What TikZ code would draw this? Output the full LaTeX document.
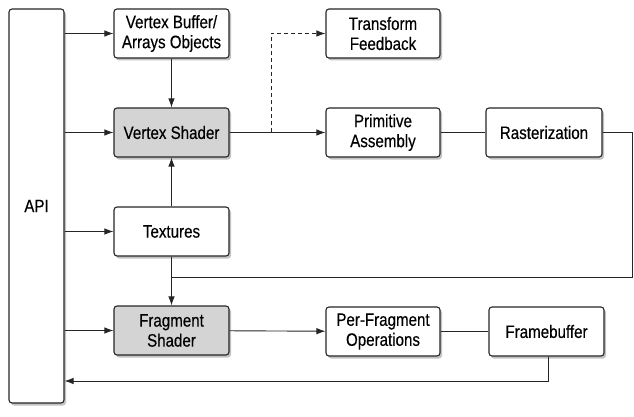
\documentclass[tikz,border=0pt]{standalone}
\usepackage{fontspec}
\setmainfont{Liberation Sans}[FakeStretch=0.84,FakeBold=0.35]
\usetikzlibrary{arrows.meta,shadows,calc}
\begin{document}
\begin{tikzpicture}[x=1pt,y=-1pt,
  box/.style={draw=black!85, line width=1.1pt, rounded corners=3pt, fill=white,
    minimum width=115pt, minimum height=49pt, align=center, inner sep=0pt,
    font=\fontsize{18}{20}\selectfont,
    drop shadow={shadow xshift=2pt, shadow yshift=-2.5pt, opacity=0.4, fill=black!60}},
  shaded/.style={box, fill=black!17},
  conn/.style={draw=black!85, line width=0.9pt},
  arr/.style={conn, -{Latex[length=9pt,width=6.5pt]}}]
\useasboundingbox (0,0) rectangle (634,417);
\node[box, minimum width=55pt, minimum height=394pt] (api) at (36.5,206) {API};
\node[box] (vb) at (171.5,33.5) {Vertex Buffer/\\Arrays Objects};
\node[shaded] (vs) at (171.5,132.5) {Vertex Shader};
\node[box] (tex) at (171.5,231.5) {Textures};
\node[shaded] (fs) at (171.5,330.5) {Fragment\\Shader};
\node[box, minimum width=114pt] (tf) at (383,33.5) {Transform\\Feedback};
\node[box, minimum width=114pt] (pa) at (383,132.5) {Primitive\\Assembly};
\node[box, minimum width=116pt] (ras) at (544,132.5) {Rasterization};
\node[box, minimum width=114pt] (pf) at (383,331.5) {Per-Fragment\\Operations};
\node[box] (fb) at (546.5,331.5) {Framebuffer};
\coordinate (split) at (271,132.5);
\coordinate (loop) at (632,277);
\coordinate (ret) at (548,381);
% API inputs
\draw[arr] (api.east |- vb) -- (vb);
\draw[arr] (api.east |- vs) -- (vs);
\draw[arr] (api.east |- tex) -- (tex);
\draw[arr] (api.east |- fs) -- (fs);
% vertical
\draw[arr] (vb) -- (vs);
\draw[arr] (tex) -- (vs);
\draw[arr] (tex) -- (fs);
% vertex pipeline
\draw[arr] (vs) -- (pa);
\draw[arr, dashed, dash pattern=on 4pt off 3pt] (split) |- (tf);
\draw[conn] (pa) -- (ras);
\draw[conn] (ras.east) -| (loop) -- (tex.south |- loop);
% fragment pipeline
\draw[arr] (fs) -- (pf);
\draw[conn] (pf) -- (fb);
\draw[arr] (fb.south -| ret) -- (ret) -- (api.east |- ret);
\end{tikzpicture}
\end{document}
